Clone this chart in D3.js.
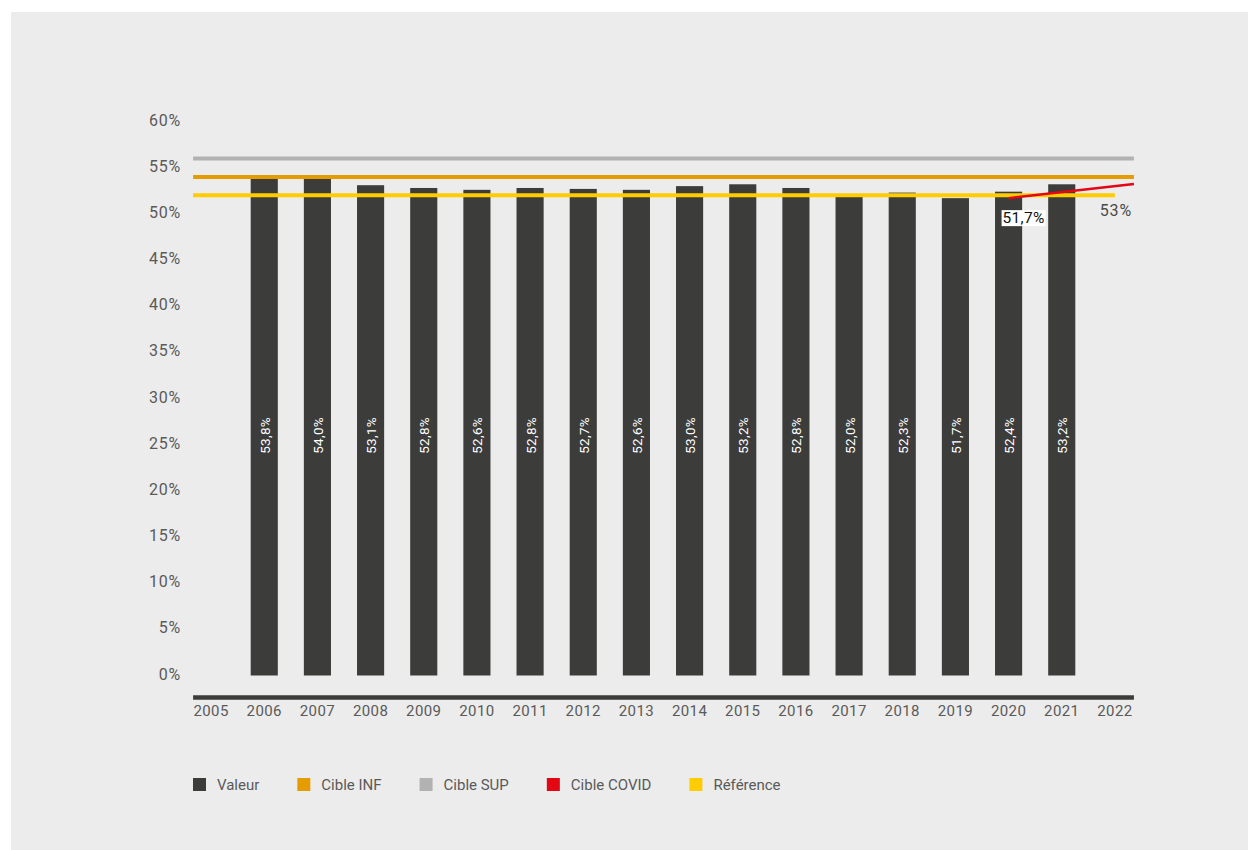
<!DOCTYPE html>
<html>
<head>
<meta charset="utf-8">
<script src="https://cdn.jsdelivr.net/npm/d3@7"></script>
<style>
  html, body { margin: 0; padding: 0; background: #ffffff; }
  svg { display: block; }
  text { font-family: Roboto, "Noto Sans", sans-serif; }
</style>
</head>
<body>
<svg id="chart" width="1248" height="850"></svg>
<script>
// Years on the category axis (2005 and 2022 carry no bar)
const years = ["2005","2006","2007","2008","2009","2010","2011","2012","2013","2014","2015","2016","2017","2018","2019","2020","2021","2022"];
// Yearly values, in percent
const barYears  = ["2006","2007","2008","2009","2010","2011","2012","2013","2014","2015","2016","2017","2018","2019","2020","2021"];
const barValues = [53.8, 54.0, 53.1, 52.8, 52.6, 52.8, 52.7, 52.6, 53.0, 53.2, 52.8, 52.0, 52.3, 51.7, 52.4, 53.2];
// Target levels
const cibleSup = 56;
const cibleInf = 54;
const reference = 52;
// COVID target path: start and end
const covidYears  = ["2020", "2022"];
const covidValues = [51.7, 53];
const covidLabels = ["51,7%", "53%"];
// Y axis ticks
const yTicks = [0, 5, 10, 15, 20, 25, 30, 35, 40, 45, 50, 55, 60];
// Legend
const legendNames  = ["Valeur", "Cible INF", "Cible SUP", "Cible COVID", "Référence"];
const legendColors = ["#3c3c3b", "#e59c00", "#b2b2b2", "#e30613", "#ffcc00"];

const C = {
  bar: "#3c3c3b", inf: "#e59c00", sup: "#b2b2b2", covid: "#e30613", ref: "#ffcc00",
  text: "#5a5a59", panel: "#ececec"
};

const svg = d3.select("#chart");

// panel background
svg.append("rect").attr("x", 11).attr("y", 12).attr("width", 1237).attr("height", 838).attr("fill", C.panel);

const x = d3.scaleBand().domain(years).range([184.5, 1141.5]).paddingInner(0.49).paddingOuter(0.245);
const y = d3.scaleLinear().domain([0, 60]).range([675.5, 121.5]);
const cx = d => x(d) + x.bandwidth() / 2;

const lineStart = cx(years[0]) - 18;
const lineEnd = cx(years[years.length - 1]) + 19;

// y tick labels
svg.append("g").selectAll("text").data(yTicks).join("text")
  .attr("x", 181).attr("y", d => y(d) - 1.5)
  .attr("text-anchor", "end").attr("dominant-baseline", "central")
  .attr("font-size", 16).attr("letter-spacing", 0.8).attr("fill", C.text)
  .text(d => d + "%");

// bars
const bars = barYears.map((yr, i) => ({ yr, v: barValues[i] }));
svg.append("g").selectAll("rect").data(bars).join("rect")
  .attr("x", d => x(d.yr)).attr("width", x.bandwidth())
  .attr("y", d => y(d.v)).attr("height", d => y(0) - y(d.v))
  .attr("fill", C.bar);

// value labels inside bars
const labelLevel = 26;
svg.append("g").selectAll("text").data(bars).join("text")
  .attr("transform", d => `translate(${cx(d.yr) + 0.5},${y(labelLevel)}) rotate(-90)`)
  .attr("text-anchor", "middle").attr("dominant-baseline", "central")
  .attr("font-size", 13.5).attr("letter-spacing", 0.3).attr("fill", "#ffffff")
  .text(d => d.v.toFixed(1).replace(".", ",") + "%");

// target lines
const hline = (val, x2, color) => svg.append("line")
  .attr("x1", lineStart).attr("x2", x2)
  .attr("y1", y(val)).attr("y2", y(val))
  .attr("stroke", color).attr("stroke-width", 4);
hline(cibleSup, lineEnd, C.sup);
hline(cibleInf, lineEnd, C.inf);
hline(reference, cx(years[years.length - 1]), C.ref);

// COVID target: through both points, carried on to the end of the axis
const x0 = cx(covidYears[0]), x1 = cx(covidYears[1]);
const slope = (covidValues[1] - covidValues[0]) / (x1 - x0);
svg.append("line")
  .attr("x1", x0).attr("y1", y(covidValues[0]))
  .attr("x2", lineEnd).attr("y2", y(covidValues[0] + slope * (lineEnd - x0)))
  .attr("stroke", C.covid).attr("stroke-width", 2.5);

// COVID annotations
const startLbl = svg.append("g");
const t1 = startLbl.append("text")
  .attr("x", x0 - 6).attr("y", y(covidValues[0]) + 20)
  .attr("dominant-baseline", "central")
  .attr("font-size", 15.5).attr("letter-spacing", 0.3).attr("fill", "#111111")
  .text(covidLabels[0]);
const bb = t1.node().getBBox();
startLbl.insert("rect", "text")
  .attr("x", bb.x - 1).attr("y", bb.y + 1).attr("width", bb.width + 2).attr("height", bb.height - 2)
  .attr("fill", "#ffffff");
svg.append("text")
  .attr("x", lineEnd - 2).attr("y", y(covidValues[1]) + 24)
  .attr("text-anchor", "end").attr("dominant-baseline", "central")
  .attr("font-size", 16).attr("letter-spacing", 0.8).attr("fill", "#4a4a49")
  .text(covidLabels[1]);

// category axis
svg.append("line")
  .attr("x1", lineStart).attr("x2", lineEnd)
  .attr("y1", 697.5).attr("y2", 697.5)
  .attr("stroke", C.bar).attr("stroke-width", 4.5);
svg.append("g").selectAll("text").data(years).join("text")
  .attr("x", d => cx(d)).attr("y", 711)
  .attr("text-anchor", "middle").attr("dominant-baseline", "central")
  .attr("font-size", 15).attr("letter-spacing", 0.4).attr("fill", C.text)
  .text(d => d);

// legend
const legend = svg.append("g");
let lx = 193;
legendNames.forEach((name, i) => {
  legend.append("rect").attr("x", lx).attr("y", 778).attr("width", 13).attr("height", 13)
    .attr("fill", legendColors[i]);
  const t = legend.append("text").attr("x", lx + 24).attr("y", 784.5)
    .attr("dominant-baseline", "central")
    .attr("font-size", 15).attr("fill", C.text).text(name);
  lx += 24 + t.node().getComputedTextLength() + 38;
});
</script>
</body>
</html>
